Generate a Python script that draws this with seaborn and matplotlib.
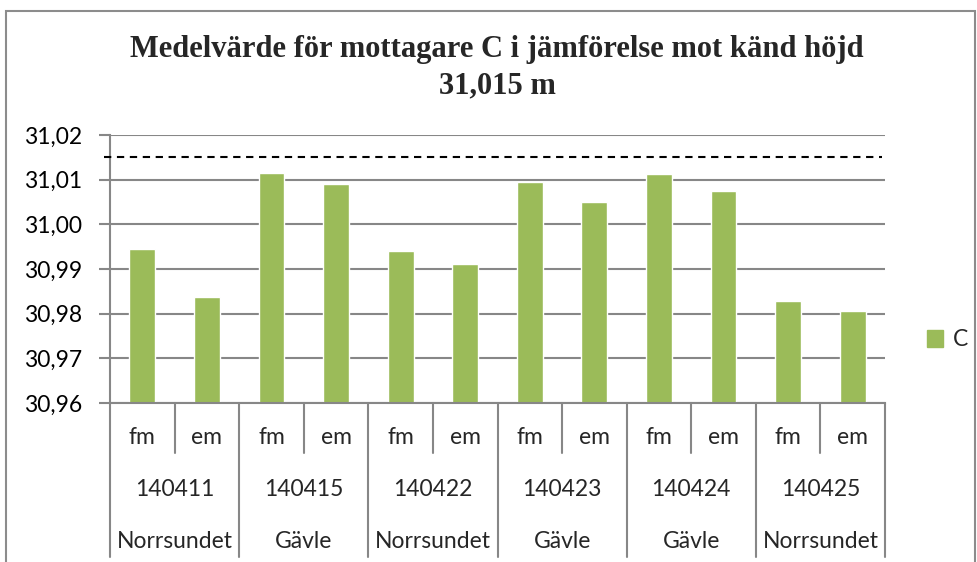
import matplotlib
matplotlib.use("Agg")
import matplotlib.pyplot as plt
import matplotlib.patches as mpatches
import matplotlib.transforms as mtransforms
import seaborn as sns
import pandas as pd
from matplotlib.ticker import FuncFormatter, MultipleLocator

# ---- data ----
sessions = ["fm", "em"] * 6
dates = ["140411", "140415", "140422", "140423", "140424", "140425"]
places = ["Norrsundet", "Gävle", "Norrsundet", "Gävle", "Gävle", "Norrsundet"]
values_C = [30.9945, 30.9838, 31.0115, 31.0091, 30.9941, 30.9912,
            31.0094, 31.0051, 31.0112, 31.0074, 30.9829, 30.9805]
known_height = 31.015
title = "Medelvärde för mottagare C i jämförelse mot känd höjd\n31,015 m"
series_name = "C"

cat_ids = [f"{d}_{s}" for d in dates for s in ["fm", "em"]]
df = pd.DataFrame({"cat": cat_ids, "value": values_C})

sns.set_style("white")
plt.rcParams["font.family"] = ["Lato", "DejaVu Sans"]

W, H = 977, 562
fig = plt.figure(figsize=(W / 100, H / 100), dpi=100)
L, R, T, B = 110, 885, 135, 403
ax = fig.add_axes([L / W, 1 - B / H, (R - L) / W, (B - T) / H])

FS = 16.5
bar_color = "#9BBB59"
grid_color = "#878787"
sns.barplot(data=df, x="cat", y="value", color=bar_color, width=0.4,
            saturation=1, ax=ax, order=cat_ids)

ax.set_ylim(30.96, 31.02)
ax.set_xlim(-0.5, len(cat_ids) - 0.5)
ax.yaxis.set_major_locator(MultipleLocator(0.01))
ax.yaxis.set_major_formatter(FuncFormatter(lambda v, p: f"{v:.2f}".replace(".", ",")))
ax.grid(axis="y", color=grid_color, linewidth=1.5)
ax.set_axisbelow(True)
ax.set_xlabel("")
ax.set_ylabel("")
ax.set_xticks([])
for s in ["top", "right"]:
    ax.spines[s].set_visible(False)
for s in ["left", "bottom"]:
    ax.spines[s].set_color(grid_color)
    ax.spines[s].set_linewidth(1.5)
ax.tick_params(axis="y", which="major", left=True, length=8, width=1.5,
               color=grid_color, labelsize=FS, pad=12, labelcolor="#000000")

# reference line
ax.plot([-0.59, len(cat_ids) - 0.55], [known_height, known_height],
        color="black", linewidth=1.5, linestyle=(0, (3.5, 2.7)), clip_on=False, zorder=5)

# multi-level category axis
trans = mtransforms.blended_transform_factory(ax.transData, fig.transFigure)
def fy(py):
    return 1 - py / H

lk = dict(color=grid_color, linewidth=1.5, clip_on=False, transform=trans)
n = len(cat_ids)
for i in range(n + 1):
    x = i - 0.5
    if i % 2 == 0:
        ax.plot([x, x], [fy(B), fy(557)], **lk)
    else:
        ax.plot([x, x], [fy(B), fy(453)], **lk)

for i, s in enumerate(sessions):
    ax.text(i, fy(437), s, transform=trans, ha="center", va="center", fontsize=FS)
for g, (d, p) in enumerate(zip(dates, places)):
    xc = 2 * g + 0.5
    ax.text(xc, fy(490), d, transform=trans, ha="center", va="center", fontsize=FS)
    ax.text(xc, fy(541), p, transform=trans, ha="center", va="center", fontsize=FS)

# title
fig.text(497 / W, fy(68), title, ha="center", va="center", fontsize=22,
         fontweight="bold", family=["Liberation Serif", "DejaVu Serif"],
         linespacing=1.32)

# legend
handle = mpatches.Patch(color=bar_color, label=series_name)
fig.legend(handles=[handle], loc="center left", bbox_to_anchor=(927 / W, fy(340)),
           frameon=False, fontsize=FS, handlelength=0.7, handleheight=0.7,
           handletextpad=0.45, borderpad=0, borderaxespad=0)

# chart border
border = mpatches.Rectangle((6 / W, -0.05), (975 - 6) / W, fy(11) + 0.05,
                            transform=fig.transFigure, fill=False,
                            edgecolor="#8c8c8c", linewidth=1.5, clip_on=False)
fig.patches.append(border)

fig.savefig("out.png", dpi=100)
